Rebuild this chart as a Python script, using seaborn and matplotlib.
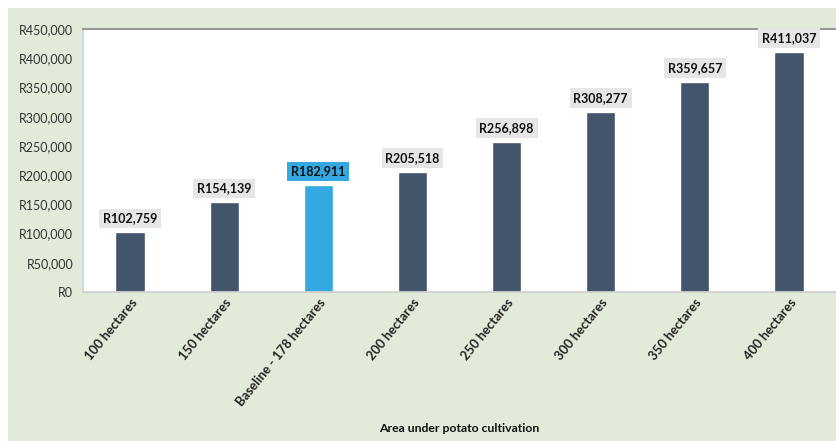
import matplotlib
matplotlib.use("Agg")
import matplotlib.pyplot as plt
import seaborn as sns
import pandas as pd
from matplotlib.patches import Rectangle
from matplotlib.ticker import FuncFormatter

categories = ["100 hectares", "150 hectares", "Baseline - 178 hectares", "200 hectares",
              "250 hectares", "300 hectares", "350 hectares", "400 hectares"]
values = [102759, 154139, 182911, 205518, 256898, 308277, 359657, 411037]
highlight = "Baseline - 178 hectares"

sns.set_theme(style="white")
plt.rcParams['font.family'] = ['Lato', 'DejaVu Sans']

df = pd.DataFrame({"cat": categories, "val": values})
dark = "#44546a"
blue = "#34a8e0"
palette = {c: (blue if c == highlight else dark) for c in categories}

fig = plt.figure(figsize=(8.36, 4.41), dpi=100)
fig.patch.set_facecolor("white")
bg = Rectangle((8/836, 0), 1, 1 - 8/441, transform=fig.transFigure,
               facecolor="#e2ebda", edgecolor="none", zorder=-10)
fig.add_artist(bg)
ax = fig.add_axes([83/836, 1 - 292/441, (836 - 83)/836, (292 - 29)/441])
ax.set_zorder(1)
ax.set_facecolor("white")

sns.barplot(data=df, x="cat", y="val", hue="cat", palette=palette, legend=False,
            width=0.31, ax=ax, saturation=1)
ax.set_ylim(0, 450000)
ax.set_xlim(-0.5, len(categories) - 0.5)
ax.set_yticks(range(0, 450001, 50000))
ax.yaxis.set_major_formatter(FuncFormatter(lambda v, p: f"R{int(v):,}"))
for lab in ax.get_yticklabels():
    lab.set_fontsize(9)
    lab.set_color("#333333")
ax.tick_params(axis="y", length=0, pad=7)
ax.tick_params(axis="x", length=0, pad=3)
ax.set_xticks(range(len(categories)))
ax.set_xticklabels(categories, rotation=51, ha="right", rotation_mode="anchor",
                   fontsize=9.3, fontweight="bold", color="#222222")
ax.set_ylabel("")
ax.set_xlabel("Area under potato cultivation", fontsize=8.8, fontweight="bold",
              color="#111111")
ax.xaxis.set_label_coords(0.5, -0.5)

ax.spines["right"].set_visible(False)
ax.spines["top"].set_color("#999999")
ax.spines["top"].set_linewidth(1.5)
ax.spines["left"].set_color("#d0d0d0")
ax.spines["bottom"].set_color("#d0d0d0")

for i, (c, v) in enumerate(zip(categories, values)):
    fc = blue if c == highlight else "#e6e6e6"
    ax.annotate(f"R{v:,}", (i, v), xytext=(0, 5.5), textcoords="offset points",
                ha="center", va="bottom", fontsize=9, fontweight="bold", color="#111111",
                bbox=dict(boxstyle="square,pad=0.3", facecolor=fc, edgecolor="none"))

fig.savefig("out.png", dpi=100, facecolor=fig.get_facecolor())
